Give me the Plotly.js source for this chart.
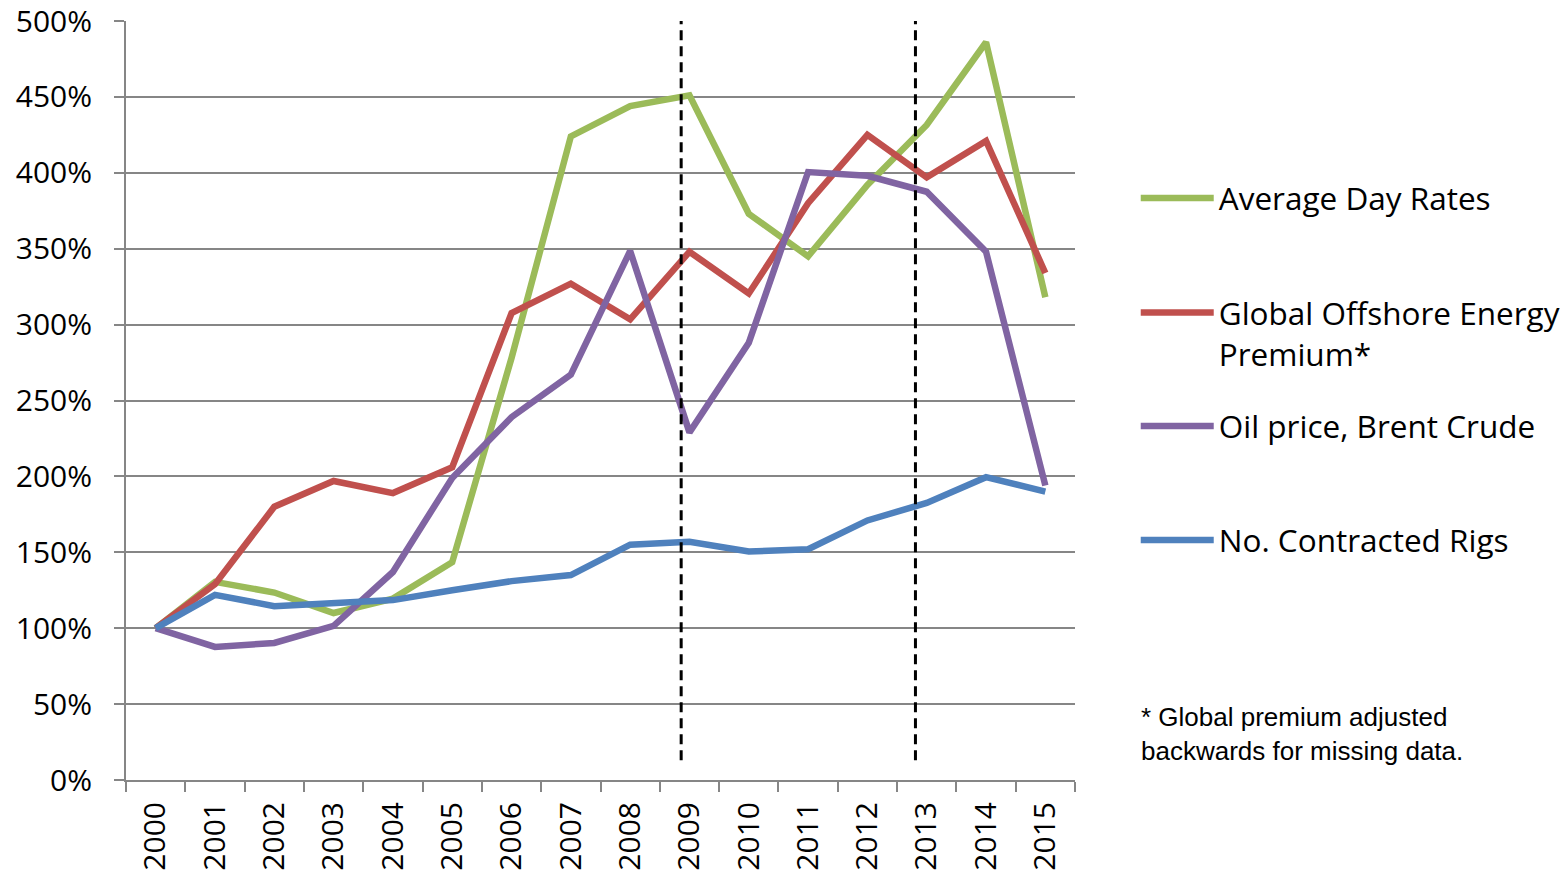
<!DOCTYPE html>
<html>
<head>
<meta charset="utf-8">
<script src="https://cdn.plot.ly/plotly-3.0.1.min.js"></script>
<style>html,body{margin:0;padding:0;background:#fff;}#chart{width:1561px;height:876px;}</style>
</head>
<body>
<div id="chart"></div>
<script>
const years = ["2000","2001","2002","2003","2004","2005","2006","2007","2008","2009","2010","2011","2012","2013","2014","2015"];
const averageDayRates = [100,130.5,123.5,110,119.5,143.5,278,424,444,451,373,345,392,431.5,486,318];
const globalOffshorePremium = [100,129,180,197,189,206,307.5,327,303.5,348,320.5,380,425,397,421,334];
const oilPriceBrent = [100,87.7,90.3,101.5,137,199,239,267,348.5,229,288,400.5,398,387.5,348,194];
const contractedRigs = [100,122,114.5,116.5,118.5,125,131,135,155,157,150.5,152,171,182.5,199.5,190];
const seriesNames = ["Average Day Rates","Global Offshore Energy<br>Premium*","Oil price, Brent Crude","No. Contracted Rigs"];
const seriesColors = ["#9BBB59","#C0504D","#8064A2","#4F81BD"];
const markerYears = [8.86, 12.81];
const footnote = "* Global premium adjusted<br>backwards for missing data.";

const allSeries = [averageDayRates, globalOffshorePremium, oilPriceBrent, contractedRigs];
const legendIds = ["legend","legend2","legend3","legend4"];
const traces = allSeries.map((vals, i) => ({
  type: "scatter", mode: "lines", x: years, y: vals, name: seriesNames[i],
  line: {color: seriesColors[i], width: 6.5},
  legend: legendIds[i], hoverinfo: "skip"
}));

const legendFont = {family: "Open Sans", size: 31.5, color: "#000"};
function mkLegend(y) {
  return {x: 1.064, xanchor: "left", y: y, yanchor: "middle", font: legendFont,
          bgcolor: "rgba(0,0,0,0)", borderwidth: 0, itemwidth: 73, valign: "top",
          itemclick: false, itemdoubleclick: false};
}

const gray = "#868686";
const tickFont = {family: "Open Sans", size: 30, color: "#000"};
const layout = {
  width: 1561, height: 876,
  margin: {l: 126, r: 486, t: 21, b: 96, pad: 0, autoexpand: false},
  paper_bgcolor: "#fff", plot_bgcolor: "#fff",
  showlegend: true,
  legend: mkLegend(0.7668),
  legend2: mkLegend(0.589),
  legend3: mkLegend(0.4664),
  legend4: mkLegend(0.3162),
  xaxis: {
    type: "category", range: [-0.5, 15.5], tickangle: -90,
    ticks: "outside", tickson: "boundaries", ticklen: 10, tickwidth: 2, tickcolor: gray,
    showline: true, linecolor: gray, linewidth: 2, showgrid: false, zeroline: false,
    tickfont: tickFont, ticklabelstandoff: 8, ticklabeloverflow: "allow", fixedrange: true
  },
  yaxis: {
    range: [0, 500], dtick: 50, ticksuffix: "%",
    ticks: "outside", ticklen: 10, tickwidth: 2, tickcolor: gray,
    showline: true, linecolor: gray, linewidth: 2,
    showgrid: true, gridcolor: gray, gridwidth: 2, zeroline: false,
    tickfont: tickFont, ticklabelstandoff: 16, ticklabeloverflow: "allow", fixedrange: true
  },
  shapes: markerYears.map(xv => ({
    type: "line", xref: "x", yref: "y", x0: xv, x1: xv, y0: 13, y1: 500,
    line: {color: "#000", width: 3, dash: "10px,6px"}, layer: "above"
  })),
  annotations: [{
    xref: "paper", yref: "paper", x: 1.0675, y: 0.06, xanchor: "left", yanchor: "middle",
    align: "left", showarrow: false, text: footnote,
    font: {family: "Liberation Sans", size: 26, color: "#000"}
  }],
  hovermode: false
};

Plotly.newPlot("chart", traces, layout, {displayModeBar: false, staticPlot: true});
</script>
</body>
</html>
